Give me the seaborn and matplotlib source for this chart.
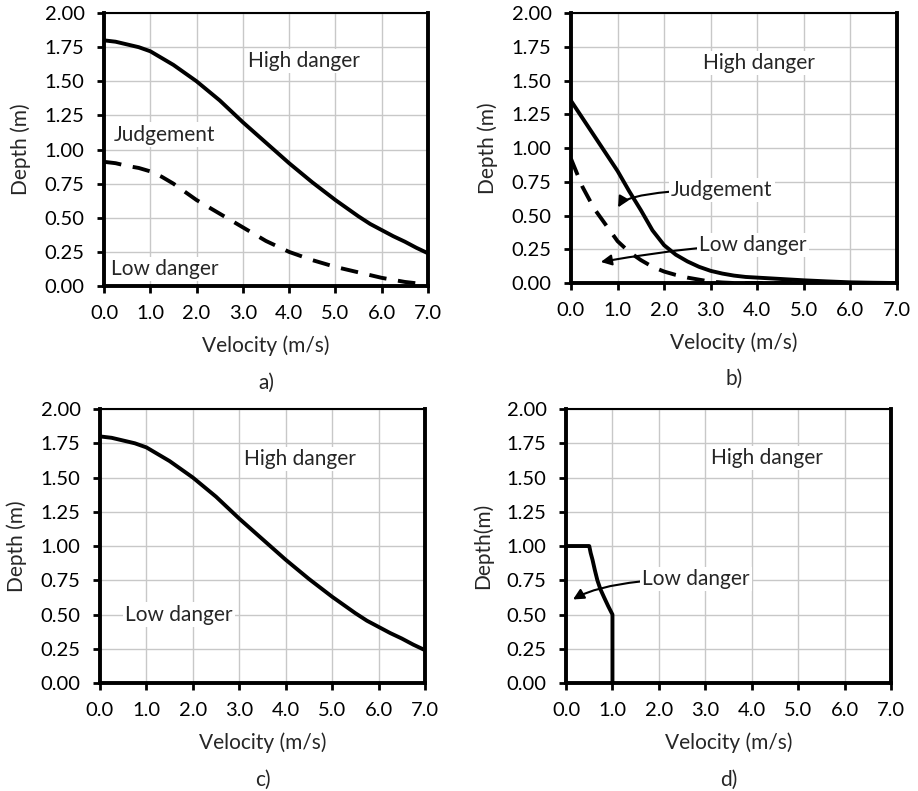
import matplotlib
matplotlib.use('Agg')
import matplotlib.pyplot as plt
import seaborn as sns

# panel a / c : high danger limit (solid) and judgement limit (dashed)
vel_ac = [0.0, 0.25, 0.5, 0.75, 1.0, 1.25, 1.5, 1.75, 2.0, 2.25, 2.5, 2.75, 3.0, 3.25, 3.5,
          3.75, 4.0, 4.25, 4.5, 4.75, 5.0, 5.25, 5.5, 5.75, 6.0, 6.25, 6.5, 6.75, 7.0]
depth_high_ac = [1.80, 1.79, 1.77, 1.75, 1.72, 1.67, 1.62, 1.56, 1.50, 1.43, 1.36, 1.28, 1.20, 1.125, 1.05,
                 0.975, 0.90, 0.83, 0.76, 0.695, 0.63, 0.57, 0.51, 0.455, 0.41, 0.365, 0.325, 0.28, 0.24]
depth_low_a = [0.91, 0.90, 0.88, 0.865, 0.84, 0.80, 0.75, 0.69, 0.63, 0.58, 0.53, 0.48, 0.43, 0.38, 0.33,
               0.29, 0.25, 0.22, 0.19, 0.165, 0.14, 0.12, 0.10, 0.08, 0.06, 0.045, 0.03, 0.02, 0.01]

# panel b
vel_b = [0.0, 0.25, 0.5, 0.75, 1.0, 1.25, 1.5, 1.75, 2.0, 2.25, 2.5, 2.75, 3.0, 3.25, 3.5,
         3.75, 4.0, 4.5, 5.0, 5.5, 6.0, 6.5, 7.0]
depth_high_b = [1.35, 1.22, 1.09, 0.96, 0.83, 0.68, 0.54, 0.39, 0.28, 0.21, 0.16, 0.12, 0.09, 0.07, 0.055,
                0.045, 0.04, 0.03, 0.02, 0.012, 0.005, 0.002, 0.0]
depth_low_b = [0.92, 0.71, 0.55, 0.43, 0.31, 0.23, 0.17, 0.12, 0.085, 0.06, 0.04, 0.025, 0.01, 0.004, 0.0,
               0.0, 0.0, 0.0, 0.0, 0.0, 0.0, 0.0, 0.0]

# panel d
vel_d = [0.0, 0.5, 0.53, 0.57, 0.62, 0.675, 0.74, 0.82, 0.91, 1.0, 1.0]
depth_d = [1.0, 1.0, 0.95, 0.9, 0.825, 0.75, 0.685, 0.625, 0.56, 0.5, 0.0]

x_ticks = [0, 1, 2, 3, 4, 5, 6, 7]
y_ticks = [0, 0.25, 0.5, 0.75, 1.0, 1.25, 1.5, 1.75, 2.0]

sns.set_style('white')
plt.rcParams['font.family'] = ['Lato', 'DejaVu Sans']

fig = plt.figure(figsize=(9.18, 7.91), dpi=100)
ax_a = fig.add_axes([0.1133, 0.6384, 0.3529, 0.3451])
ax_b = fig.add_axes([0.6220, 0.6422, 0.3551, 0.3413])
ax_c = fig.add_axes([0.1089, 0.1365, 0.3540, 0.3464])
ax_d = fig.add_axes([0.6166, 0.1365, 0.3540, 0.3464])

lw = 2.8
dash = (0, (4.5, 3))
box = dict(facecolor='white', edgecolor='none', pad=1.5)
fs = 15


def style(ax, ylabel, caption):
    ax.set_xlim(0, 7)
    ax.set_ylim(0, 2)
    ax.set_xticks(x_ticks)
    ax.set_xticklabels(['%.1f' % v for v in x_ticks])
    ax.set_yticks(y_ticks)
    ax.set_yticklabels(['%.2f' % v for v in y_ticks])
    ax.grid(True, color='#c8c8c8', lw=1)
    ax.set_axisbelow(True)
    for s in ['left', 'bottom', 'right']:
        ax.spines[s].set_linewidth(2.8)
        ax.spines[s].set_color('black')
    ax.spines['top'].set_linewidth(1.5)
    ax.spines['top'].set_color('black')
    ax.tick_params(axis='both', direction='out', length=5, width=2, colors='black',
                   labelsize=14.5, bottom=True, left=True)
    ax.tick_params(axis='x', pad=9)
    ax.tick_params(axis='y', pad=9)
    ax.set_xlabel('Velocity (m/s)', fontsize=fs, labelpad=9)
    ax.set_ylabel(ylabel, fontsize=fs, labelpad=10)
    ax.text(0.5, -0.355, caption, transform=ax.transAxes, ha='center', va='center', fontsize=fs)


# a)
sns.lineplot(x=vel_ac, y=depth_high_ac, ax=ax_a, color='black', lw=lw)
sns.lineplot(x=vel_ac, y=depth_low_a, ax=ax_a, color='black', lw=lw, linestyle=dash)
style(ax_a, 'Depth (m)', 'a)')
ax_a.text(3.11, 1.65, 'High danger', fontsize=fs, va='center', bbox=box)
ax_a.text(0.22, 1.11, 'Judgement', fontsize=fs, va='center', bbox=box)
ax_a.text(0.15, 0.125, 'Low danger', fontsize=fs, va='center', bbox=box)

# b)
sns.lineplot(x=vel_b, y=depth_high_b, ax=ax_b, color='black', lw=lw)
sns.lineplot(x=vel_b, y=depth_low_b, ax=ax_b, color='black', lw=lw, linestyle=dash)
style(ax_b, 'Depth (m)', 'b)')
ax_b.text(2.83, 1.63, 'High danger', fontsize=fs, va='center', bbox=box)
ax_b.annotate('Judgement', xy=(1.01, 0.56), xytext=(2.15, 0.69), fontsize=fs, va='center',
              bbox=box,
              arrowprops=dict(arrowstyle='-|>', color='black', lw=1.5, mutation_scale=16,
                              shrinkA=0, shrinkB=0, connectionstyle='angle3,angleA=0,angleB=60'))
ax_b.annotate('Low danger', xy=(0.64, 0.156), xytext=(2.75, 0.28), fontsize=fs, va='center',
              bbox=box,
              arrowprops=dict(arrowstyle='-|>', color='black', lw=1.5, mutation_scale=16,
                              shrinkA=0, shrinkB=0, connectionstyle='angle3,angleA=0,angleB=10'))

# c)
sns.lineplot(x=vel_ac, y=depth_high_ac, ax=ax_c, color='black', lw=lw)
style(ax_c, 'Depth (m)', 'c)')
ax_c.text(3.1, 1.635, 'High danger', fontsize=fs, va='center', bbox=box)
ax_c.text(0.54, 0.50, 'Low danger', fontsize=fs, va='center', bbox=box)

# d)
sns.lineplot(x=vel_d, y=depth_d, ax=ax_d, color='black', lw=lw, sort=False, estimator=None)
style(ax_d, 'Depth(m)', 'd)')
ax_d.text(3.12, 1.64, 'High danger', fontsize=fs, va='center', bbox=box)
ax_d.annotate('Low danger', xy=(0.15, 0.61), xytext=(1.64, 0.76), fontsize=fs, va='center',
              bbox=box,
              arrowprops=dict(arrowstyle='-|>', color='black', lw=1.5, mutation_scale=16,
                              shrinkA=0, shrinkB=0, connectionstyle='angle3,angleA=0,angleB=30'))

fig.savefig('out.png', dpi=100)
